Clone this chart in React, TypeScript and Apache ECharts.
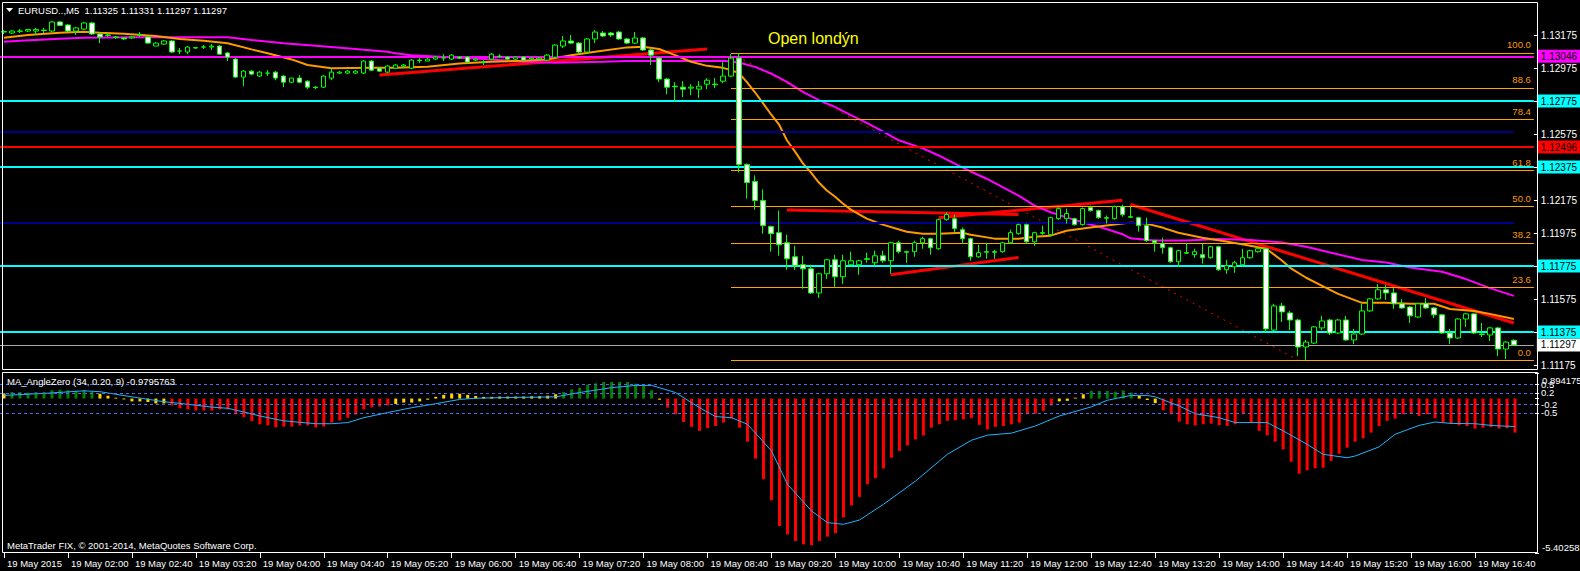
import React, { useEffect, useRef } from 'react';
import * as echarts from 'echarts';

const FONT = '"Liberation Sans", Arial, sans-serif';
const FS = 9.5;

// ---------- Price bars (EURUSD M5, 19 May 2015, from 01:20) ----------
const opens = [
  1.13196, 1.13187, 1.13199, 1.13199, 1.13199, 1.13205, 1.13199, 1.13254, 1.13236, 1.13199,
  1.13211, 1.13248, 1.13181, 1.13175, 1.13163, 1.13157, 1.13157, 1.13175, 1.13163, 1.13108,
  1.13120, 1.13139, 1.13078, 1.13072, 1.13096, 1.13102, 1.13102, 1.13108, 1.13066, 1.13029,
  1.12920, 1.12956, 1.12926, 1.12944, 1.12950, 1.12926, 1.12889, 1.12914, 1.12895, 1.12859,
  1.12859, 1.12914, 1.12944, 1.12944, 1.12944, 1.12944, 1.13017, 1.12974, 1.12950, 1.12974,
  1.12987, 1.12974, 1.13023, 1.13017, 1.13029, 1.13035, 1.13029, 1.13041, 1.13041, 1.13023,
  1.13011, 1.13029, 1.13047, 1.13041, 1.13029, 1.13041, 1.13029, 1.13029, 1.13023, 1.13041,
  1.13108, 1.13139, 1.13126, 1.13072, 1.13151, 1.13187, 1.13187, 1.13193, 1.13151, 1.13126,
  1.13157, 1.13084, 1.13035, 1.12908, 1.12865, 1.12859, 1.12853, 1.12847, 1.12877, 1.12877,
  1.12895, 1.12926, 1.13035, 1.12391, 1.12287, 1.12172, 1.12014, 1.11977, 1.11916, 1.11831,
  1.11783, 1.11758, 1.11612, 1.11728, 1.11813, 1.11710, 1.11783, 1.11783, 1.11819, 1.11795,
  1.11837, 1.11807, 1.11916, 1.11862, 1.11862, 1.11916, 1.11941, 1.11880, 1.12056, 1.12062,
  1.11995, 1.11941, 1.11831, 1.11862, 1.11862, 1.11862, 1.11916, 1.11971, 1.12026, 1.11922,
  1.11977, 1.11965, 1.12062, 1.12062, 1.12062, 1.12026, 1.12129, 1.12111, 1.12068, 1.12062,
  1.12135, 1.12074, 1.12068, 1.12020, 1.11929, 1.11910, 1.11886, 1.11801, 1.11856, 1.11844,
  1.11844, 1.11825, 1.11892, 1.11752, 1.11770, 1.11783, 1.11825, 1.11862, 1.11880, 1.11387,
  1.11533, 1.11491, 1.11448, 1.11284, 1.11308, 1.11400, 1.11448, 1.11369, 1.11448, 1.11327,
  1.11363, 1.11503, 1.11576, 1.11631, 1.11612, 1.11546, 1.11527, 1.11466, 1.11546, 1.11521,
  1.11479, 1.11369, 1.11339, 1.11454, 1.11485, 1.11363, 1.11357, 1.11400, 1.11272, 1.11325,
];
const highs = [
  1.13205, 1.13205, 1.13211, 1.13211, 1.13218, 1.13218, 1.13260, 1.13260, 1.13242, 1.13224,
  1.13254, 1.13254, 1.13187, 1.13187, 1.13169, 1.13163, 1.13169, 1.13193, 1.13169, 1.13132,
  1.13145, 1.13145, 1.13096, 1.13108, 1.13102, 1.13114, 1.13120, 1.13114, 1.13072, 1.13035,
  1.12962, 1.12962, 1.12956, 1.12962, 1.12956, 1.12932, 1.12914, 1.12932, 1.12901, 1.12865,
  1.12932, 1.12974, 1.12956, 1.12962, 1.12962, 1.13023, 1.13023, 1.12980, 1.12993, 1.12999,
  1.12999, 1.13029, 1.13035, 1.13035, 1.13047, 1.13059, 1.13059, 1.13047, 1.13047, 1.13035,
  1.13023, 1.13066, 1.13059, 1.13047, 1.13047, 1.13047, 1.13041, 1.13041, 1.13059, 1.13120,
  1.13169, 1.13175, 1.13132, 1.13157, 1.13205, 1.13199, 1.13193, 1.13199, 1.13157, 1.13193,
  1.13163, 1.13090, 1.13041, 1.12914, 1.12889, 1.12895, 1.12877, 1.12895, 1.12914, 1.12914,
  1.13011, 1.13059, 1.13066, 1.12397, 1.12324, 1.12239, 1.12020, 1.12111, 1.11965, 1.11898,
  1.11837, 1.11783, 1.11734, 1.11819, 1.11844, 1.11844, 1.11862, 1.11813, 1.11856, 1.11868,
  1.11868, 1.11922, 1.11929, 1.11868, 1.11929, 1.11953, 1.11947, 1.12062, 1.12099, 1.12087,
  1.12008, 1.11947, 1.11904, 1.11916, 1.11874, 1.11922, 1.11995, 1.12032, 1.12032, 1.11983,
  1.12020, 1.12074, 1.12129, 1.12123, 1.12068, 1.12129, 1.12141, 1.12117, 1.12081, 1.12141,
  1.12147, 1.12135, 1.12074, 1.12068, 1.11935, 1.11947, 1.11892, 1.11874, 1.11916, 1.11880,
  1.11910, 1.11898, 1.11898, 1.11813, 1.11807, 1.11880, 1.11874, 1.11892, 1.11886, 1.11546,
  1.11552, 1.11503, 1.11454, 1.11327, 1.11412, 1.11473, 1.11454, 1.11454, 1.11473, 1.11394,
  1.11546, 1.11582, 1.11667, 1.11661, 1.11643, 1.11576, 1.11533, 1.11552, 1.11582, 1.11527,
  1.11485, 1.11394, 1.11460, 1.11491, 1.11491, 1.11430, 1.11406, 1.11406, 1.11321, 1.11331,
];
const lows = [
  1.13181, 1.13181, 1.13187, 1.13193, 1.13175, 1.13187, 1.13193, 1.13230, 1.13193, 1.13175,
  1.13205, 1.13175, 1.13126, 1.13163, 1.13151, 1.13145, 1.13151, 1.13163, 1.13120, 1.13108,
  1.13114, 1.13066, 1.13059, 1.13059, 1.13090, 1.13090, 1.13084, 1.13059, 1.13017, 1.12914,
  1.12865, 1.12932, 1.12920, 1.12926, 1.12901, 1.12859, 1.12883, 1.12883, 1.12847, 1.12847,
  1.12853, 1.12901, 1.12938, 1.12938, 1.12938, 1.12938, 1.12956, 1.12950, 1.12944, 1.12968,
  1.12974, 1.12968, 1.13005, 1.13017, 1.13023, 1.13017, 1.13023, 1.13029, 1.13005, 1.13017,
  1.12993, 1.13023, 1.13035, 1.13023, 1.13023, 1.13017, 1.13023, 1.13023, 1.13017, 1.13035,
  1.13096, 1.13120, 1.13066, 1.13066, 1.13126, 1.13163, 1.13163, 1.13145, 1.13120, 1.13120,
  1.13078, 1.12993, 1.12889, 1.12816, 1.12774, 1.12798, 1.12810, 1.12792, 1.12847, 1.12853,
  1.12883, 1.12920, 1.12342, 1.12184, 1.12117, 1.11971, 1.11862, 1.11837, 1.11752, 1.11752,
  1.11637, 1.11606, 1.11582, 1.11698, 1.11649, 1.11667, 1.11777, 1.11722, 1.11795, 1.11777,
  1.11795, 1.11728, 1.11850, 1.11795, 1.11831, 1.11880, 1.11844, 1.11874, 1.12050, 1.11977,
  1.11910, 1.11807, 1.11825, 1.11819, 1.11819, 1.11856, 1.11910, 1.11965, 1.11916, 1.11898,
  1.11965, 1.11959, 1.12056, 1.12032, 1.12020, 1.12020, 1.12105, 1.12062, 1.12032, 1.12056,
  1.12074, 1.12068, 1.11983, 1.11922, 1.11862, 1.11850, 1.11795, 1.11770, 1.11850, 1.11825,
  1.11789, 1.11819, 1.11746, 1.11728, 1.11734, 1.11777, 1.11819, 1.11856, 1.11375, 1.11381,
  1.11436, 1.11387, 1.11229, 1.11205, 1.11302, 1.11387, 1.11357, 1.11363, 1.11321, 1.11302,
  1.11357, 1.11497, 1.11570, 1.11570, 1.11515, 1.11515, 1.11430, 1.11460, 1.11515, 1.11460,
  1.11363, 1.11302, 1.11333, 1.11406, 1.11363, 1.11345, 1.11321, 1.11229, 1.11211, 1.11297,
];
const closes = [
  1.13193, 1.13199, 1.13198, 1.13208, 1.13208, 1.13202, 1.13254, 1.13233, 1.13199, 1.13218,
  1.13248, 1.13181, 1.13163, 1.13172, 1.13160, 1.13151, 1.13163, 1.13175, 1.13126, 1.13126,
  1.13139, 1.13072, 1.13078, 1.13102, 1.13099, 1.13102, 1.13108, 1.13059, 1.13041, 1.12920,
  1.12956, 1.12938, 1.12950, 1.12944, 1.12914, 1.12889, 1.12914, 1.12889, 1.12859, 1.12856,
  1.12926, 1.12950, 1.12950, 1.12956, 1.12956, 1.13017, 1.12962, 1.12956, 1.12987, 1.12993,
  1.12993, 1.13023, 1.13020, 1.13029, 1.13041, 1.13038, 1.13053, 1.13035, 1.13011, 1.13029,
  1.13008, 1.13059, 1.13044, 1.13029, 1.13041, 1.13023, 1.13035, 1.13035, 1.13053, 1.13114,
  1.13139, 1.13126, 1.13072, 1.13151, 1.13193, 1.13169, 1.13175, 1.13151, 1.13126, 1.13157,
  1.13084, 1.13053, 1.12908, 1.12859, 1.12862, 1.12847, 1.12859, 1.12865, 1.12901, 1.12874,
  1.12926, 1.13035, 1.12391, 1.12281, 1.12172, 1.12020, 1.11971, 1.11904, 1.11819, 1.11777,
  1.11758, 1.11612, 1.11728, 1.11813, 1.11710, 1.11807, 1.11807, 1.11807, 1.11816, 1.11837,
  1.11807, 1.11916, 1.11862, 1.11859, 1.11916, 1.11941, 1.11886, 1.12056, 1.12087, 1.12002,
  1.11941, 1.11831, 1.11856, 1.11859, 1.11859, 1.11916, 1.11977, 1.12026, 1.11922, 1.11977,
  1.11974, 1.12068, 1.12123, 1.12093, 1.12026, 1.12123, 1.12111, 1.12068, 1.12065, 1.12135,
  1.12087, 1.12071, 1.12020, 1.11929, 1.11916, 1.11886, 1.11801, 1.11868, 1.11853, 1.11862,
  1.11825, 1.11892, 1.11752, 1.11777, 1.11795, 1.11825, 1.11868, 1.11880, 1.11394, 1.11533,
  1.11497, 1.11448, 1.11284, 1.11314, 1.11406, 1.11442, 1.11369, 1.11448, 1.11327, 1.11363,
  1.11503, 1.11576, 1.11631, 1.11612, 1.11546, 1.11521, 1.11473, 1.11546, 1.11521, 1.11479,
  1.11369, 1.11339, 1.11454, 1.11485, 1.11369, 1.11360, 1.11400, 1.11272, 1.11314, 1.11297,
];

// ---------- Moving averages: [bar, price] ----------
const orangeMA = [
  [0, 1.13159], [3, 1.13175], [7, 1.13189], [10, 1.13195], [12, 1.13189], [15, 1.13183], [19, 1.13169],
  [22, 1.13151], [25, 1.1314], [28, 1.13125], [31, 1.13088], [33, 1.13064], [36, 1.13027], [38, 1.12993],
  [41, 1.12973], [46, 1.12976], [49, 1.12977], [53, 1.12982], [57, 1.13003], [61, 1.13013], [65, 1.13019],
  [68, 1.13027], [71, 1.13053], [74, 1.13073], [78, 1.131], [80, 1.13104], [82, 1.1309], [84, 1.13053],
  [86, 1.13013], [88, 1.12988], [90, 1.12976], [91, 1.12962], [92, 1.12944], [93, 1.12889], [94, 1.12828],
  [95, 1.12762], [96, 1.12695], [97, 1.12634], [98, 1.12537], [99, 1.1247], [100, 1.12397], [101, 1.12342],
  [102, 1.12281], [103, 1.12233], [104, 1.12196], [105, 1.12154], [106, 1.12117], [108, 1.12062],
  [110, 1.12026], [113, 1.11983], [115, 1.11971], [117, 1.11971], [120, 1.11977], [121, 1.11965],
  [124, 1.11941], [127, 1.11941], [129, 1.11953], [131, 1.11959], [133, 1.11989], [136, 1.12008],
  [138, 1.1202], [141, 1.12038], [143, 1.12032], [145, 1.12008], [147, 1.11977], [150, 1.11947],
  [153, 1.11923], [156, 1.11898], [158, 1.1188], [160, 1.11807], [161, 1.11764], [163, 1.11704],
  [165, 1.11655], [167, 1.11606], [170, 1.11552], [173, 1.11552], [176, 1.11546], [179, 1.11546],
  [181, 1.11515], [184, 1.11503], [186, 1.11485], [189, 1.11454],
];
const magentaMA = [
  [0, 1.13134], [2, 1.1314], [7, 1.13152], [10, 1.13159], [16, 1.13161], [28, 1.13161], [31, 1.13145],
  [35, 1.13125], [39, 1.1311], [44, 1.1309], [48, 1.13073], [49, 1.13064], [51, 1.13053], [57, 1.13037],
  [59, 1.13033], [65, 1.13013], [69, 1.13007], [75, 1.13013], [78, 1.13017], [86, 1.13017], [90, 1.13019],
  [92, 1.13008], [94, 1.12982], [96, 1.12942], [98, 1.12891], [100, 1.1283], [102, 1.1278], [104, 1.12739],
  [106, 1.12689], [108, 1.12642], [110, 1.12591], [112, 1.12537], [115, 1.12488], [117, 1.12445],
  [119, 1.12395], [121, 1.12348], [123, 1.12304], [125, 1.12253], [127, 1.12202], [129, 1.12141],
  [131, 1.12101], [133, 1.1207], [135, 1.1204], [138, 1.11999], [140, 1.11968], [141, 1.11943],
  [144, 1.11929], [148, 1.11929], [152, 1.11939], [156, 1.11933], [160, 1.11918], [163, 1.11892],
  [166, 1.11857], [170, 1.11811], [173, 1.11797], [176, 1.11766], [180, 1.1174], [183, 1.11696],
  [186, 1.11641], [189, 1.11594],
];

// ---------- Drawn objects ----------
const trendLines = [
  [[47, 1.12932], [88, 1.1309]],
  [[98, 1.12115], [127, 1.12087]],
  [[117, 1.12067], [140, 1.12174]],
  [[111, 1.11722], [127, 1.11827]],
  [[141, 1.12148], [189, 1.1143]],
];
const fibTrend = [[91, 1.13066], [162, 1.11205]];
const fibHigh = 1.13066;
const fibLow = 1.11205;
const fibStartBar = 91;
const fibRatios = [0, 0.236, 0.382, 0.5, 0.618, 0.784, 0.886, 1];
const cyanLevels = [1.12775, 1.12375, 1.11775, 1.11375];
const magentaLevel = 1.13046;
const redLevel = 1.12496;
const bidPrice = 1.11297;
const navyLevels = [1.12591, 1.1204];
const navyEndBar = 189;

// ---------- Axis ticks ----------
const priceTicks = [1.13175, 1.12975, 1.12775, 1.12575, 1.12375, 1.12175, 1.11975, 1.11775, 1.11575, 1.11375, 1.11175];
const priceLabels = [1.13175, 1.12975, 1.12575, 1.12175, 1.11975, 1.11575, 1.11175];
const tickLabels = [
  '19 May 2015', '19 May 02:00', '19 May 02:40', '19 May 03:20', '19 May 04:00', '19 May 04:40',
  '19 May 05:20', '19 May 06:00', '19 May 06:40', '19 May 07:20', '19 May 08:00', '19 May 08:40',
  '19 May 09:20', '19 May 10:00', '19 May 10:40', '19 May 11:20', '19 May 12:00', '19 May 12:40',
  '19 May 13:20', '19 May 14:00', '19 May 14:40', '19 May 15:20', '19 May 16:00', '19 May 16:40',
];
const barsPerTick = 8;

// ---------- MA_AngleZero indicator ----------
const histValues = [
  0.18, 0.23, 0.23, 0.21, 0.23, 0.23, 0.29, 0.31, 0.29, 0.27,
  0.29, 0.24, 0.17, 0.10, 0.03, -0.03, -0.10, -0.10, -0.12, -0.17,
  -0.17, -0.24, -0.34, -0.38, -0.42, -0.42, -0.42, -0.38, -0.38, -0.55,
  -0.65, -0.79, -0.90, -0.94, -1.01, -0.98, -0.98, -0.94, -0.94, -1.01,
  -0.98, -0.84, -0.77, -0.67, -0.56, -0.38, -0.31, -0.28, -0.24, -0.19,
  -0.14, -0.14, -0.10, -0.04, 0.06, 0.13, 0.17, 0.17, 0.13, 0.09,
  0.06, 0.06, 0.07, 0.07, 0.07, 0.07, 0.08, 0.08, 0.10, 0.15,
  0.23, 0.32, 0.38, 0.48, 0.53, 0.58, 0.58, 0.58, 0.58, 0.52,
  0.44, 0.29, -0.04, -0.32, -0.55, -0.82, -0.99, -1.13, -1.04, -0.96,
  -0.84, -0.70, -1.02, -1.51, -2.10, -2.82, -3.56, -4.46, -4.75, -4.98,
  -5.10, -5.13, -4.98, -4.83, -4.71, -4.16, -3.74, -3.44, -3.00, -2.79,
  -2.45, -2.07, -1.83, -1.64, -1.43, -1.29, -1.02, -0.90, -0.78, -0.76,
  -0.73, -0.69, -0.92, -1.08, -0.99, -0.96, -0.90, -0.84, -0.55, -0.53,
  -0.43, -0.24, -0.10, -0.08, 0.03, 0.15, 0.27, 0.27, 0.27, 0.24,
  0.29, 0.21, 0.09, -0.05, -0.16, -0.41, -0.55, -0.81, -0.90, -0.94,
  -0.90, -0.88, -0.93, -0.96, -0.90, -0.55, -0.84, -1.13, -1.29, -1.51,
  -1.78, -2.21, -2.63, -2.51, -2.44, -2.42, -2.18, -1.93, -1.72, -1.51,
  -1.39, -1.19, -0.96, -0.78, -0.70, -0.55, -0.53, -0.61, -0.55, -0.69,
  -0.84, -0.88, -0.93, -0.96, -1.05, -1.02, -0.99, -1.05, -1.04, -1.19,
];
const signalPoints = [
  [0, 0.11], [5, 0.18], [10, 0.27], [12, 0.24], [14, 0.15], [16, 0.06], [20, -0.11], [23, -0.2],
  [26, -0.3], [28, -0.34], [30, -0.47], [32, -0.61], [35, -0.78], [39, -0.88], [41, -0.88], [43, -0.84],
  [45, -0.67], [48, -0.49], [51, -0.32], [54, -0.18], [57, -0.03], [59, 0.01], [62, 0.03], [69, 0.06],
  [72, 0.21], [76, 0.38], [79, 0.46], [81, 0.46], [84, 0.21], [87, -0.32], [89, -0.63], [91, -0.67],
  [93, -0.9], [96, -1.83], [98, -3.0], [101, -3.93], [103, -4.34], [105, -4.4], [107, -4.25], [110, -3.7],
  [114, -2.89], [118, -1.95], [121, -1.46], [123, -1.28], [126, -1.21], [129, -0.96], [132, -0.61],
  [136, -0.29], [138, -0.06], [141, 0.11], [143, 0.11], [144, 0.06], [147, -0.26], [149, -0.53],
  [152, -0.67], [154, -0.84], [158, -0.84], [160, -1.13], [163, -1.6], [165, -1.95], [168, -2.07],
  [169, -2.01], [172, -1.69], [174, -1.25], [177, -0.94], [179, -0.82], [181, -0.87], [184, -0.88],
  [186, -0.94], [189, -0.98],
];
const indLevels = [0.5, 0.2, -0.2, -0.5];
const indZero = 0;
const indMax = 0.894175;
const indMin = -5.402587;
const zoneLimit = 0.2;

const TOTAL_SLOTS = 192;
const START_MIN = 80; // 01:20

function buildOption() {
  const cats: string[] = [];
  for (let i = 0; i < TOTAL_SLOTS; i++) {
    if (i < opens.length) {
      const m = START_MIN + 5 * i;
      const hh = String(Math.floor(m / 60)).padStart(2, '0');
      const mm = String(m % 60).padStart(2, '0');
      cats.push(`19 May ${hh}:${mm}`);
    } else cats.push('');
  }
  const lastTickIdx = (tickLabels.length - 1) * barsPerTick;
  const showIdx = (i: number) => i % barsPerTick === 0 && i <= lastTickIdx;
  // fraction of the plot width at a bar centre (for the helper value axis)
  const frac = (bar: number) => (bar + 0.5) / TOTAL_SLOTS;

  const boxLabel = (p: number, bg: string, fg: string) => ({
    show: true, position: 'end', distance: 3, formatter: p.toFixed(5),
    backgroundColor: bg, color: fg, padding: [2, 4, 1, 4], fontFamily: FONT, fontSize: 10,
  });
  const hLine = (p: number, x0: number, x1: number, lineStyle: any, label: any) => [
    { coord: [x0, p], lineStyle: { type: 'solid', ...lineStyle }, label },
    { coord: [x1, p] },
  ];

  const fibRange = fibHigh - fibLow;
  const hMarks: any[] = [];
  navyLevels.forEach((p) => hMarks.push(hLine(p, 0, frac(navyEndBar), { color: '#00008b', width: 2 }, { show: false })));
  fibRatios.forEach((r) => {
    const p = fibLow + r * fibRange;
    hMarks.push(hLine(p, frac(fibStartBar), 1, { color: '#ffa500', width: 1 }, {
      show: true, position: 'insideEndTop', distance: 3, formatter: (r * 100).toFixed(1),
      color: '#ff9900', fontFamily: FONT, fontSize: FS,
    }));
  });
  hMarks.push(hLine(bidPrice, 0, 1, { color: '#a8a8a8', width: 1 }, boxLabel(bidPrice, '#ffffff', '#000')));
  hMarks.push(hLine(magentaLevel, 0, 1, { color: '#ff00ff', width: 2 }, boxLabel(magentaLevel, '#ff00ff', '#000')));
  cyanLevels.forEach((p) => hMarks.push(hLine(p, 0, 1, { color: '#00ffff', width: 2 }, boxLabel(p, '#00ffff', '#000'))));
  hMarks.push(hLine(redLevel, 0, 1, { color: '#ff0000', width: 2 }, boxLabel(redLevel, '#ff0000', '#000')));

  const levelLabel = (text: string) => ({
    show: true, position: 'end', distance: 6, formatter: text, color: '#ffffff', fontFamily: FONT, fontSize: FS,
  });
  const indMarks: any[] = indLevels.map((l) => [
    { coord: [0, l], label: levelLabel(l.toFixed(1)) },
    { coord: [1, l] },
  ]);
  indMarks.push([
    { coord: [0, indZero], lineStyle: { opacity: 0 }, label: levelLabel('0.00') },
    { coord: [1, indZero] },
  ]);

  const series: any[] = [
    {
      type: 'line', xAxisIndex: 2, yAxisIndex: 0, data: [], silent: true, z: 1,
      markLine: { symbol: ['none', 'none'], silent: true, animation: false, data: hMarks },
    },
    {
      type: 'line', xAxisIndex: 0, yAxisIndex: 0, data: fibTrend, symbol: 'none', silent: true, z: 2,
      lineStyle: { color: '#ff0000', width: 1, type: [2, 5] },
    },
    ...trendLines.map((t) => ({
      type: 'line', xAxisIndex: 0, yAxisIndex: 0, data: t, symbol: 'none', silent: true, z: 3,
      lineStyle: { color: '#ff0000', width: 3 },
    })),
    {
      type: 'line', xAxisIndex: 0, yAxisIndex: 0, data: magentaMA, symbol: 'none', silent: true, z: 3,
      lineStyle: { color: '#ff00ff', width: 2 },
    },
    {
      type: 'line', xAxisIndex: 0, yAxisIndex: 0, data: orangeMA, symbol: 'none', silent: true, z: 3,
      lineStyle: { color: '#ff9900', width: 2 },
    },
    {
      type: 'candlestick', xAxisIndex: 0, yAxisIndex: 0, silent: true, z: 5, barWidth: 5,
      data: opens.map((o, i) => [o, closes[i], lows[i], highs[i]]),
      itemStyle: {
        color: '#000000', color0: '#ffffff', borderColor: '#00ff00', borderColor0: '#00ff00',
        borderColorDoji: '#00ff00', borderWidth: 1,
      },
    },
    {
      type: 'line', xAxisIndex: 3, yAxisIndex: 1, data: [], silent: true, z: 1,
      markLine: {
        symbol: ['none', 'none'], silent: true, animation: false,
        lineStyle: { color: '#4a6cf0', width: 1, type: [3, 3] },
        data: indMarks,
      },
    },
    {
      type: 'bar', xAxisIndex: 1, yAxisIndex: 1, silent: true, barWidth: 3, z: 2,
      data: histValues.map((v) => ({
        value: v,
        itemStyle: { color: v >= zoneLimit ? '#008000' : v <= -zoneLimit ? '#ff0000' : '#ffd700' },
      })),
    },
    {
      type: 'line', xAxisIndex: 1, yAxisIndex: 1, data: signalPoints, symbol: 'none', silent: true, z: 4,
      lineStyle: { color: '#1eb4ff', width: 1 },
    },
  ];

  const txt = (text: string, x: number, y: number, size: number, color: string, family = FONT) => ({
    type: 'text', x, y, silent: true, z: 100,
    style: { text, fill: color, fontSize: size, fontFamily: family, align: 'left', verticalAlign: 'middle' },
  });

  return {
    animation: false,
    backgroundColor: '#000000',
    grid: [
      { left: -1, top: 2, width: 1536, height: 367 },
      { left: -1, top: 373, width: 1536, height: 180 },
    ],
    xAxis: [
      { type: 'category', gridIndex: 0, data: cats, show: false, boundaryGap: true },
      {
        type: 'category', gridIndex: 1, data: cats, boundaryGap: true,
        axisLine: { show: false, onZero: false },
        axisTick: { show: true, alignWithLabel: true, interval: (i: number) => showIdx(i), length: 5, lineStyle: { color: '#ffffff' } },
        axisLabel: {
          interval: (i: number) => showIdx(i), showMinLabel: true, showMaxLabel: true, hideOverlap: false,
          formatter: (_v: string, i: number) => (showIdx(i) ? tickLabels[i / barsPerTick] : ''),
          color: '#ffffff', fontFamily: FONT, fontSize: FS, align: 'left', margin: 5, padding: [0, 0, 0, 3],
        },
        splitLine: { show: false },
      },
      { type: 'value', gridIndex: 0, min: 0, max: 1, show: false, axisLine: { onZero: false } },
      { type: 'value', gridIndex: 1, min: 0, max: 1, show: false, axisLine: { onZero: false } },
    ],
    yAxis: [
      {
        type: 'value', gridIndex: 0, position: 'right', min: 1.11151, max: 1.13375,
        splitLine: { show: false }, axisLine: { show: false, onZero: false },
        axisTick: { show: true, customValues: priceTicks, length: 4, lineStyle: { color: '#ffffff' } },
        axisLabel: {
          customValues: priceLabels, color: '#ffffff', fontFamily: FONT, fontSize: 10, margin: 7,
          formatter: (v: number) => v.toFixed(5),
        },
      },
      {
        type: 'value', gridIndex: 1, position: 'right', min: indMin, max: indMax,
        splitLine: { show: false }, axisLine: { show: false, onZero: false },
        axisTick: { show: true, customValues: [indMax, ...indLevels, indZero, indMin], length: 4, lineStyle: { color: '#ffffff' } },
        axisLabel: { show: false },
      },
    ],
    graphic: [
      { type: 'rect', silent: true, z: 90, shape: { x: 2.5, y: 2.5, width: 1535, height: 367 }, style: { fill: 'none', stroke: '#ffffff', lineWidth: 1 } },
      { type: 'rect', silent: true, z: 90, shape: { x: 2.5, y: 372.5, width: 1535, height: 180 }, style: { fill: 'none', stroke: '#ffffff', lineWidth: 1 } },
      { type: 'polygon', silent: true, z: 100, shape: { points: [[6, 8], [13, 8], [9.5, 12]] }, style: { fill: '#ffffff' } },
      txt('EURUSD..,M5  1.11325 1.11331 1.11297 1.11297', 18, 10, FS, '#ffffff'),
      txt('Open londýn', 768, 38, 16, '#ffff00'),
      txt('MA_AngleZero (34, 0.20, 9) -0.9795763', 7, 381, FS, '#ffffff'),
      txt('MetaTrader FIX, © 2001-2014, MetaQuotes Software Corp.', 7, 545, FS, '#ffffff'),
      txt(String(indMax), 1542, 380, FS, '#ffffff'),
      txt(String(indMin), 1542, 547, FS, '#ffffff'),
    ],
    series,
  };
}

export default function App() {
  const ref = useRef<HTMLDivElement>(null);
  useEffect(() => {
    if (!ref.current) return;
    const chart = echarts.init(ref.current, null, { renderer: 'svg' });
    chart.setOption(buildOption() as any);
    return () => chart.dispose();
  }, []);
  return (
    <div
      ref={ref}
      style={{ position: 'fixed', left: 0, top: 0, width: 1580, height: 571, background: '#000000' }}
    />
  );
}
